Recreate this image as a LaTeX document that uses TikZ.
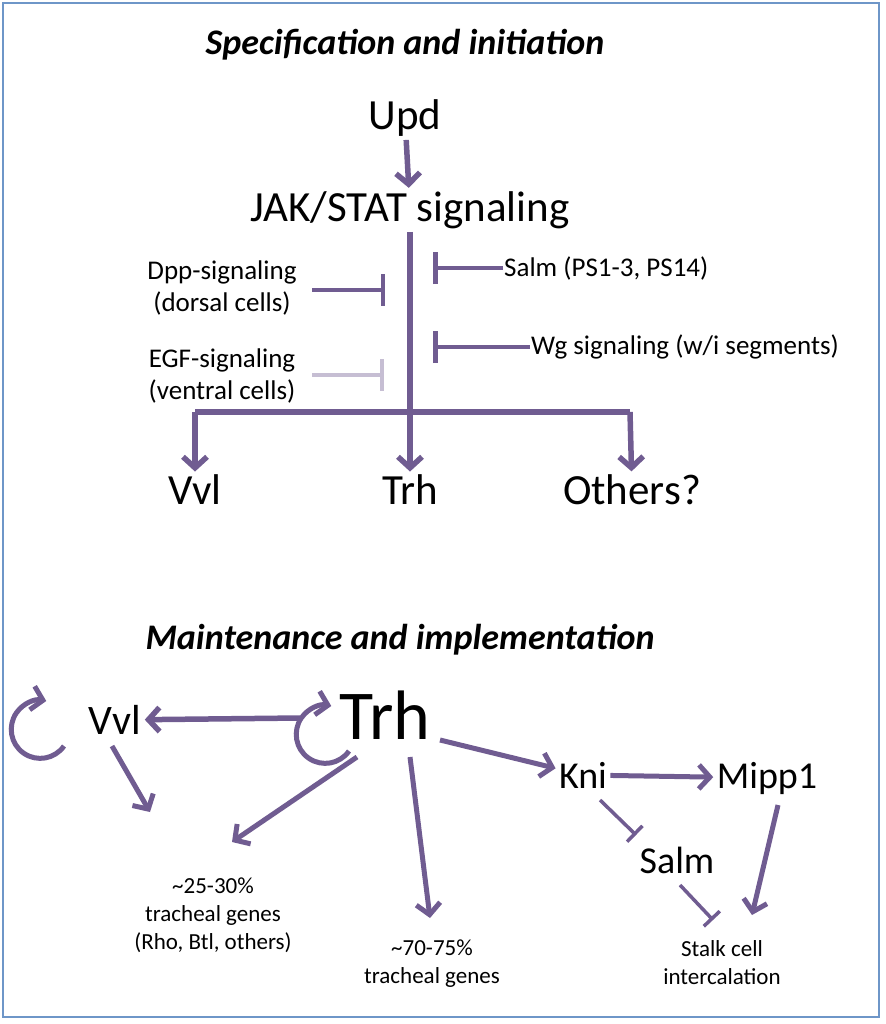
\documentclass[tikz,border=0pt]{standalone}
\usepackage{fontspec}
\setmainfont{Carlito}
\usetikzlibrary{arrows.meta}
\definecolor{vio}{RGB}{112,92,145}
\definecolor{frame}{RGB}{110,150,200}
\tikzset{
	act/.style={draw=vio, line width=5.5pt, -{Straight Barb[length=11pt,width=24pt]}},
	inh/.style={draw=vio, line width=4.5pt, -{Bar[width=32pt]}},
	lbl/.style={inner sep=1pt, align=center},
}
\begin{document}
\begin{tikzpicture}[x=1pt, y=-1pt]
	\useasboundingbox (0,0) rectangle (885,1024);
	\draw[frame, line width=1.5pt] (3,3) rectangle (879,1017);
	% specification
	\node[font=\fontsize{36}{40}\selectfont\bfseries\itshape] at (405,45)(title1){Specification and initiation};
	\node[font=\fontsize{43}{46}\selectfont] at (405,118)(upd){Upd};
	\node[font=\fontsize{43}{46}\selectfont] at (410,210)(jak){JAK/STAT signaling};
	\draw[act] (upd) -- (jak);
	\coordinate (top) at (410,232);
	\coordinate (mid) at (410,412);
	\coordinate (ml) at (195,412);
	\coordinate (mr) at (630,412);
	\draw[vio, line width=5.5pt] (top) -- (mid);
	\draw[vio, line width=5.5pt] (ml) -- (mr);
	\node[font=\fontsize{43}{46}\selectfont] at (195,490)(vvl1){Vvl};
	\node[font=\fontsize{43}{46}\selectfont] at (410,490)(trh1){Trh};
	\node[font=\fontsize{43}{46}\selectfont] at (632,490)(oth){Others?};
	\draw[act] (ml) -- (vvl1);
	\draw[act] (mid) -- (trh1);
	\draw[act] (mr) -- (oth);
	\node[lbl, font=\fontsize{27}{32}\selectfont] at (222,288)(dpp){Dpp-signaling\\(dorsal cells)};
	\node[lbl, font=\fontsize{27}{32}\selectfont] at (222,376)(egf){EGF-signaling\\(ventral cells)};
	\node[lbl, font=\fontsize{27}{32}\selectfont, anchor=west] at (503,268)(salm1){Salm (PS1-3, PS14)};
	\node[lbl, font=\fontsize{27}{32}\selectfont, anchor=west] at (530,347)(wg){Wg signaling (w/i segments)};
	\coordinate (dppe) at (385,290);
	\coordinate (egfe) at (384,375);
	\coordinate (salme) at (433,268);
	\coordinate (wge) at (433,347);
	\draw[inh] (312,290) -- (dppe);
	\draw[inh, draw=vio!40] (312,375) -- (egfe);
	\draw[inh] (salm1.west) -- (salme);
	\draw[inh] (wg.west) -- (wge);
	% maintenance
	\node[font=\fontsize{36}{40}\selectfont\bfseries\itshape] at (400,640)(title2){Maintenance and implementation};
	\node[font=\fontsize{42}{46}\selectfont] at (115,720)(vvl){Vvl};
	\node[font=\fontsize{70}{76}\selectfont] at (385,715)(trh){Trh};
	\node[font=\fontsize{38}{42}\selectfont] at (583,775)(kni){Kni};
	\node[font=\fontsize{38}{42}\selectfont] at (767,778)(mipp){Mipp1};
	\node[font=\fontsize{38}{42}\selectfont] at (677,860)(salm){Salm};
	\node[lbl, font=\fontsize{23}{28}\selectfont] at (213,915)(g25){\textasciitilde25-30\%\\tracheal genes\\(Rho, Btl, others)};
	\node[lbl, font=\fontsize{23}{28}\selectfont] at (432,964)(g70){\textasciitilde70-75\%\\tracheal genes};
	\node[lbl, font=\fontsize{23}{28}\selectfont] at (722,963)(stalk){Stalk cell\\intercalation};
	\draw[act] (300,718) -- (vvl);
	\draw[act, line width=5pt] (64,746) arc[start angle=35, end angle=282, radius=29];
	\draw[act, line width=5pt] (349,751) arc[start angle=35, end angle=282, radius=29];
	\draw[act, line width=5pt] (112,746) -- (150,812);
	\draw[act, line width=5pt] (357,757) -- (232,842);
	\draw[act, line width=5pt] (410,757) -- (430,918);
	\draw[act, line width=5pt] (440,740) -- (kni);
	\draw[act, line width=5pt] (kni) -- (mipp);
	\draw[inh, line width=3.5pt, -{Bar[width=22pt]}] (600,800) -- (636,835);
	\draw[inh, line width=3.5pt, -{Bar[width=22pt]}] (680,885) -- (713,920);
	\draw[act, line width=5pt] (778,805) -- (752,915);
\end{tikzpicture}
\end{document}
